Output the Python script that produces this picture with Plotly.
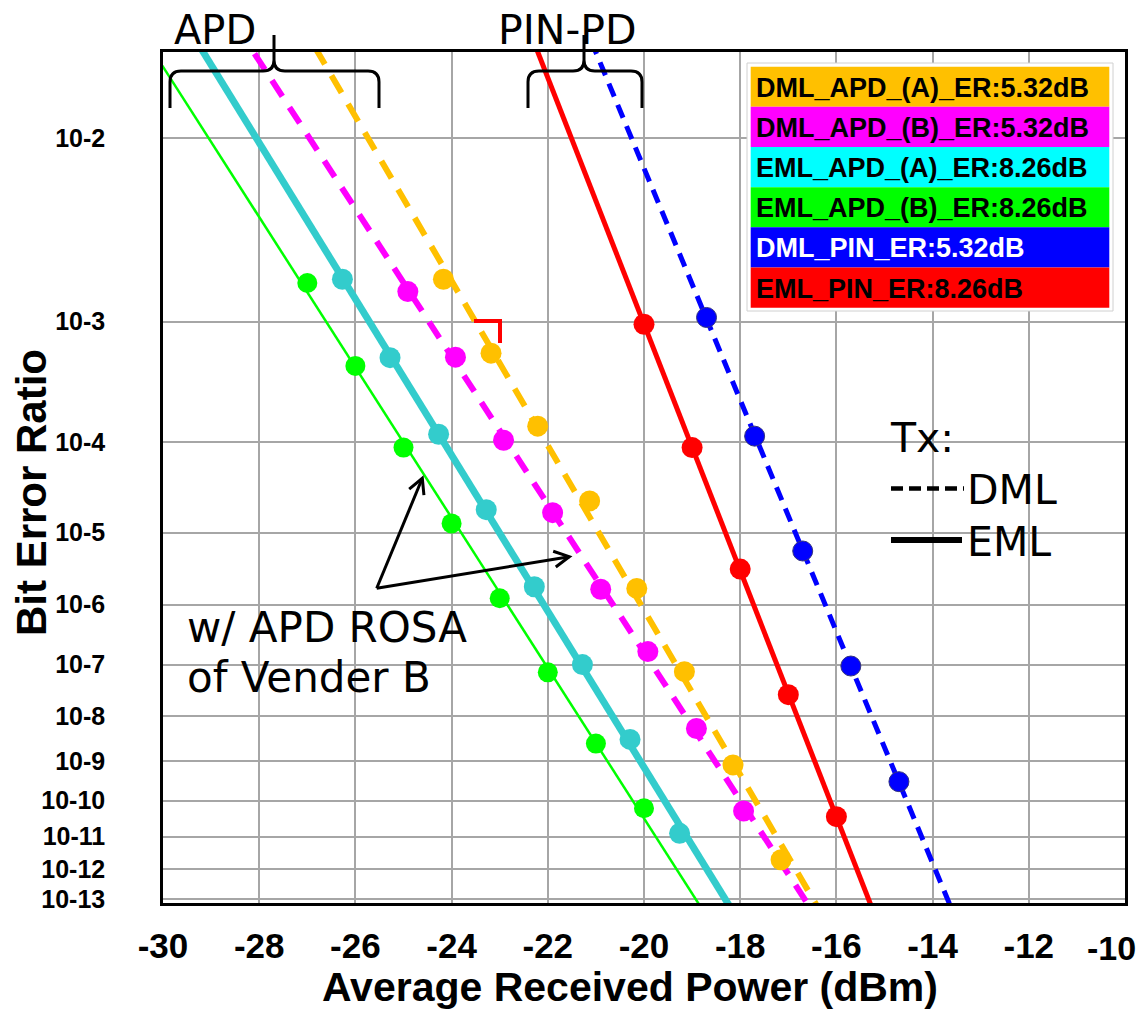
import numpy as np
import plotly.graph_objects as go

# ---------------- data ----------------
series_names = ["DML_APD_(A)_ER:5.32dB", "DML_APD_(B)_ER:5.32dB", "EML_APD_(A)_ER:8.26dB",
                "EML_APD_(B)_ER:8.26dB", "DML_PIN_ER:5.32dB", "EML_PIN_ER:8.26dB"]

dml_apd_a_power = [-24.17, -23.18, -22.21, -21.13, -20.15, -19.16, -18.15, -17.15]
dml_apd_a_ber = [1.9e-3, 5.9e-4, 1.43e-4, 2.4e-5, 1.75e-6, 7.4e-8, 8.0e-10, 2.0e-12]

dml_apd_b_power = [-24.91, -23.92, -22.92, -21.90, -20.90, -19.92, -18.91, -17.93]
dml_apd_b_ber = [1.59e-3, 5.5e-4, 1.05e-4, 1.75e-5, 1.7e-6, 1.7e-7, 5.4e-9, 5.3e-11]

eml_apd_a_power = [-26.27, -25.28, -24.27, -23.28, -22.28, -21.28, -20.29, -19.26]
eml_apd_a_ber = [1.9e-3, 5.45e-4, 1.2e-4, 1.9e-5, 1.85e-6, 1.0e-7, 3.1e-9, 1.25e-11]

eml_apd_b_power = [-27.0, -26.0, -25.0, -24.0, -23.0, -22.0, -21.0, -20.0]
eml_apd_b_ber = [1.8e-3, 4.7e-4, 8.9e-5, 1.3e-5, 1.25e-6, 7.2e-8, 2.5e-9, 6.3e-11]

dml_pin_power = [-18.7, -17.7, -16.7, -15.7, -14.7]
dml_pin_ber = [1.07e-3, 1.15e-4, 5.8e-6, 9.4e-8, 3.1e-10]

eml_pin_power = [-20.0, -19.0, -18.0, -17.0, -16.0]
eml_pin_ber = [9.6e-4, 8.9e-5, 3.3e-6, 2.7e-8, 3.7e-11]

x_tick_values = [-30, -28, -26, -24, -22, -20, -18, -16, -14, -12, -10]
x_tick_labels = ["-30", "-28", "-26", "-24", "-22", "-20", "-18", "-16", "-14", "-12", "-10"]
ber_tick_exponents = [2, 3, 4, 5, 6, 7, 8, 9, 10, 11, 12, 13]
ber_tick_labels = ["10-%d" % e for e in ber_tick_exponents]


# BER axis scale (log of -log)
def ber_scale(ber):
    return np.log10(-np.log10(np.asarray(ber, dtype=float)) - 0.5)


# ---------------- figure geometry ----------------
OFF = 8  # page body margin
W, H = 1147 - OFF, 1017 - 2 * OFF
# plot area edges in page pixels
PL, PR, PT, PB = 163, 1125, 52, 903
L, R, T, B = PL - OFF, PR - OFF, PT - OFF, PB - OFF


def px(x):
    return (x - PL) / (PR - PL)


def py(y):
    return (PB - y) / (PB - PT)


fig = go.Figure()

styles = [
    (dml_apd_a_power, dml_apd_a_ber, "#FFC000", 6, "20px,13px", 21),
    (dml_apd_b_power, dml_apd_b_ber, "#FF00FF", 6, "19px,13px", 21),
    (eml_apd_a_power, eml_apd_a_ber, "#33CCCC", 7, "solid", 21),
    (eml_apd_b_power, eml_apd_b_ber, "#00FF00", 2.5, "solid", 20),
    (dml_pin_power, dml_pin_ber, "#0000FF", 5, "14px,9px", 20),
    (eml_pin_power, eml_pin_ber, "#FF0000", 5, "solid", 21),
]

for name, (pw, ber, col, lw, dash, ms) in zip(series_names, styles):
    k, b = np.polyfit(pw, ber_scale(ber), 1)
    xs = np.array([-31.0, -9.0])
    fig.add_trace(go.Scatter(x=xs, y=k * xs + b, mode="lines", showlegend=False,
                             line=dict(color=col, width=lw, dash=dash), hoverinfo="skip"))
for name, (pw, ber, col, lw, dash, ms) in zip(series_names, styles):
    mline = dict(color="#333380", width=1) if col == "#0000FF" else dict(width=0)
    fig.add_trace(go.Scatter(x=pw, y=ber_scale(ber), mode="markers", name=name, showlegend=False,
                             marker=dict(color=col, size=ms, line=mline)))

y_top = 0.39794 + (PT - 321.7) / 826.2
y_bot = 0.39794 + (PB - 321.7) / 826.2

tickfont_y = dict(family="Liberation Sans, Arial", size=25, color="black", weight="bold")
tickfont_x = dict(family="Liberation Sans, Arial", size=35, color="black", weight="bold")

# last x label is drawn as an annotation so it is not clipped at the page edge
x_tick_text = x_tick_labels[:-1] + [""]

fig.update_xaxes(range=[-30, -10], tickvals=x_tick_values, ticktext=x_tick_text,
                 showgrid=True, gridcolor="#A6A6A6", gridwidth=1.5,
                 showline=True, linecolor="black", linewidth=2.5, mirror=True,
                 ticks="", tickfont=tickfont_x, ticklabelstandoff=10, zeroline=False,
                 automargin=False)
fig.update_yaxes(range=[y_bot, y_top], tickvals=list(ber_scale([10.0 ** -e for e in ber_tick_exponents])),
                 ticktext=ber_tick_labels,
                 showgrid=True, gridcolor="#A6A6A6", gridwidth=1.5,
                 showline=True, linecolor="black", linewidth=2.5, mirror=True,
                 ticks="", tickfont=tickfont_y, ticklabelstandoff=50, zeroline=False,
                 automargin=False)

shapes = []
# pink reference lines at 1e-3 and 1e-12
for e in (3, 12):
    yv = float(ber_scale(10.0 ** -e))
    shapes.append(dict(type="line", xref="paper", yref="y", x0=0, x1=1, y0=yv, y1=yv,
                       line=dict(color="#FF99CC", width=1.5), layer="below"))


def brace(x_left, x_mid, x_right, y_bot_px=108, y_h=71, y_tip=35, r=11):
    p = []
    p.append("M %f,%f" % (px(x_left), py(y_bot_px)))
    p.append("L %f,%f" % (px(x_left), py(y_h + r)))
    p.append("Q %f,%f %f,%f" % (px(x_left), py(y_h), px(x_left + r), py(y_h)))
    p.append("L %f,%f" % (px(x_mid - r), py(y_h)))
    p.append("Q %f,%f %f,%f" % (px(x_mid), py(y_h), px(x_mid), py(y_h - r)))
    p.append("L %f,%f" % (px(x_mid), py(y_tip)))
    p.append("M %f,%f" % (px(x_mid), py(y_h - r)))
    p.append("Q %f,%f %f,%f" % (px(x_mid), py(y_h), px(x_mid + r), py(y_h)))
    p.append("L %f,%f" % (px(x_right - r), py(y_h)))
    p.append("Q %f,%f %f,%f" % (px(x_right), py(y_h), px(x_right), py(y_h + r)))
    p.append("L %f,%f" % (px(x_right), py(y_bot_px)))
    return dict(type="path", xref="paper", yref="paper", path=" ".join(p),
                line=dict(color="black", width=3))


shapes.append(brace(170, 274, 379))
shapes.append(brace(528, 584, 642))

# small red corner mark
shapes.append(dict(type="path", xref="paper", yref="paper",
                   path="M %f,%f L %f,%f L %f,%f" % (px(474), py(321), px(500), py(321), px(500), py(343)),
                   line=dict(color="#FF0000", width=4)))


def arrow(x0, y0, x1, y1, head=17, ang=28):
    dx, dy = x1 - x0, y1 - y0
    a = np.arctan2(dy, dx)
    out = [dict(type="line", xref="paper", yref="paper", x0=px(x0), y0=py(y0), x1=px(x1), y1=py(y1),
                line=dict(color="black", width=3))]
    pts = []
    for s in (1, -1):
        aa = a + np.pi + s * np.radians(ang)
        pts.append((x1 + head * np.cos(aa), y1 + head * np.sin(aa)))
    out.append(dict(type="path", xref="paper", yref="paper",
                    path="M %f,%f L %f,%f L %f,%f" % (px(pts[0][0]), py(pts[0][1]), px(x1), py(y1),
                                                      px(pts[1][0]), py(pts[1][1])),
                    line=dict(color="black", width=3)))
    return out


shapes += arrow(376.7, 588.3, 422.3, 478.3)
shapes += arrow(376.7, 588.3, 569.3, 556.7)

# Tx legend lines
shapes.append(dict(type="line", xref="paper", yref="paper", x0=px(891), x1=px(964), y0=py(488.5), y1=py(488.5),
                   line=dict(color="black", width=4.5, dash="12px,6px")))
shapes.append(dict(type="line", xref="paper", yref="paper", x0=px(891), x1=px(962), y0=py(540), y1=py(540),
                   line=dict(color="black", width=6)))

# colour-coded legend box
leg_colors = ["#FFC000", "#FF00FF", "#00FFFF", "#00FF00", "#0000FF", "#FF0000"]
leg_text_colors = ["black", "black", "black", "black", "white", "black"]
shapes.append(dict(type="rect", xref="paper", yref="paper", x0=px(747), x1=px(1113), y0=py(311), y1=py(63),
                   fillcolor="white", line=dict(color="#D0D0D0", width=1)))
row_h = (307.7 - 66.7) / 6
annotations = []
for i, (nm, fc, tc) in enumerate(zip(series_names, leg_colors, leg_text_colors)):
    y0 = 66.7 + i * row_h
    shapes.append(dict(type="rect", xref="paper", yref="paper", x0=px(750.7), x1=px(1109.3),
                       y0=py(y0 + row_h), y1=py(y0), fillcolor=fc, line=dict(width=0)))
    annotations.append(dict(xref="paper", yref="paper", x=px(754), y=py(y0 + row_h / 2 + 1), text=nm,
                            showarrow=False, xanchor="left", yanchor="middle",
                            font=dict(family="Liberation Sans, Arial", size=27, color=tc, weight="bold")))

dv = dict(family="DejaVu Sans", color="black")
annotations += [
    dict(xref="paper", yref="paper", x=px(1138), y=py(948), text=x_tick_labels[-1], showarrow=False,
         xanchor="right", yanchor="middle", font=dict(tickfont_x, size=34)),
    dict(xref="paper", yref="paper", x=px(172), y=py(30), text="APD", showarrow=False,
         xanchor="left", yanchor="middle", font=dict(size=40, **dv)),
    dict(xref="paper", yref="paper", x=px(496), y=py(30), text="PIN-PD", showarrow=False,
         xanchor="left", yanchor="middle", font=dict(size=41, **dv)),
    dict(xref="paper", yref="paper", x=px(185), y=py(627), text="w/ APD ROSA", showarrow=False,
         xanchor="left", yanchor="middle", font=dict(size=42, **dv)),
    dict(xref="paper", yref="paper", x=px(185), y=py(677), text="of Vender B", showarrow=False,
         xanchor="left", yanchor="middle", font=dict(size=42, **dv)),
    dict(xref="paper", yref="paper", x=px(888), y=py(438), text="Tx:", showarrow=False,
         xanchor="left", yanchor="middle", font=dict(size=41, **dv)),
    dict(xref="paper", yref="paper", x=px(965), y=py(490), text="DML", showarrow=False,
         xanchor="left", yanchor="middle", font=dict(size=41, **dv)),
    dict(xref="paper", yref="paper", x=px(965), y=py(542), text="EML", showarrow=False,
         xanchor="left", yanchor="middle", font=dict(size=41, **dv)),
    dict(xref="paper", yref="paper", x=px(630), y=py(987), text="Average Received Power (dBm)",
         showarrow=False, xanchor="center", yanchor="middle",
         font=dict(family="Liberation Sans, Arial", size=41, color="black", weight="bold")),
    dict(xref="paper", yref="paper", x=px(31), y=py(493), text="Bit Error Ratio", textangle=-90,
         showarrow=False, xanchor="center", yanchor="middle",
         font=dict(family="Liberation Sans, Arial", size=42, color="black", weight="bold")),
]

fig.update_layout(width=W, height=H, margin=dict(l=L, r=W - R, t=T, b=H - B, autoexpand=False),
                  paper_bgcolor="white", plot_bgcolor="white",
                  shapes=shapes, annotations=annotations, showlegend=False)

fig.write_html("out.html")
